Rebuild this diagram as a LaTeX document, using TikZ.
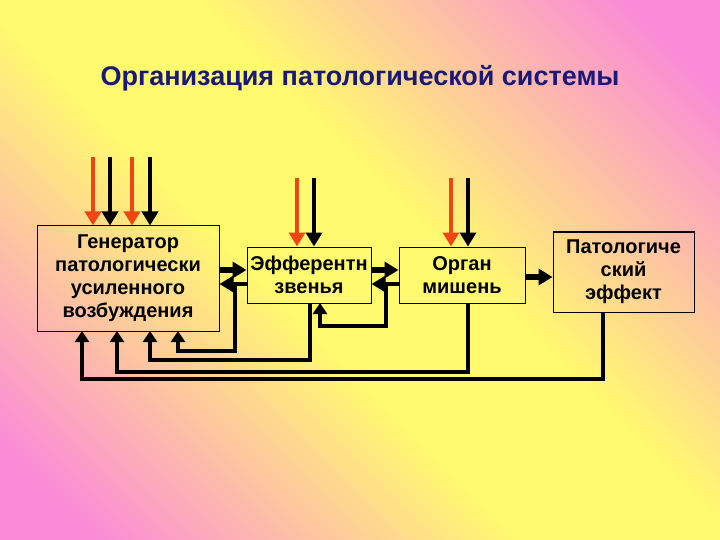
\documentclass[tikz,border=0pt]{standalone}
\usepackage{fontspec}
\setmainfont{Liberation Sans}
\usetikzlibrary{arrows.meta}
\definecolor{pinkc}{RGB}{250,140,215}
\definecolor{yelc}{RGB}{255,250,110}
\definecolor{redc}{RGB}{240,70,20}
\definecolor{titc}{RGB}{25,25,120}
\pgfdeclarehorizontalshading{diag}{100bp}{color(0bp)=(pinkc); color(20bp)=(pinkc); color(44bp)=(yelc); color(56bp)=(yelc); color(80bp)=(pinkc); color(100bp)=(pinkc)}
\begin{document}
\begin{tikzpicture}[x=1pt,y=-1pt,
  box/.style={draw=black,line width=1pt,inner sep=0pt,align=center,font=\fontsize{20}{23}\selectfont\bfseries},
  blk/.style={line width=4.5pt,-{Triangle[length=14pt,width=16pt]}},
  red/.style={draw=redc,line width=4pt,-{Triangle[length=14pt,width=16pt]}},
  fb/.style={line width=4pt,-{Triangle[length=11pt,width=14pt]}}]
\useasboundingbox (0,0) rectangle (720,540);
\shade[shading=diag,shading angle=45] (0,0) rectangle (720,540);
\node[font=\fontsize{27}{31}\selectfont\bfseries,text=titc] (title) at (360,78) {Организация патологической системы};
\node[box,minimum width=182pt,minimum height=105pt] (gen) at (128,278.5) {Генератор\\патологически\\усиленного\\возбуждения};
\node[box,minimum width=124pt,minimum height=56pt] (eff) at (309,275) {Эфферентн\\звенья};
\node[box,minimum width=126pt,minimum height=56pt] (org) at (462,275) {Орган\\мишень};
\node[box,minimum width=141pt,minimum height=80pt] (pat) at (623.5,272) {Патологиче\\ский\\эффект};
% top inputs
\coordinate (g1) at (93,157); \coordinate (g2) at (110,157);
\coordinate (g3) at (132,157); \coordinate (g4) at (150,157);
\draw[red] (g1) -- (g1 |- gen.north);
\draw[blk] (g2) -- (g2 |- gen.north);
\draw[red] (g3) -- (g3 |- gen.north);
\draw[blk] (g4) -- (g4 |- gen.north);
\coordinate (e1) at (297,178); \coordinate (e2) at (314,178);
\draw[red] (e1) -- (e1 |- eff.north);
\draw[blk] (e2) -- (e2 |- eff.north);
\coordinate (o1) at (451,178); \coordinate (o2) at (468,178);
\draw[red] (o1) -- (o1 |- org.north);
\draw[blk] (o2) -- (o2 |- org.north);
% horizontal
\draw[blk,line width=6pt] (gen.east |- 0,270) -- (eff.west |- 0,270);
\draw[blk] (eff.west |- 0,284) -- (gen.east |- 0,284);
\draw[blk,line width=6pt] (eff.east |- 0,270) -- (org.west |- 0,270);
\draw[blk] (org.west |- 0,284) -- (eff.east |- 0,284);
\draw[blk,line width=6pt] (org.east |- 0,277) -- (pat.west |- 0,277);
% feedback
\coordinate (f1) at (235,284); \coordinate (f2) at (386,284);
\draw[fb] (f1) -- (235,351) -- (178,351) -- (178,331);
\draw[fb] (f2) -- (386,326) -- (320,326) -- (320,303);
\draw[fb] (eff.south -| 310,0) -- (310,360) -- (150,360) -- (150,331);
\draw[fb] (org.south -| 468,0) -- (468,372) -- (117,372) -- (117,331);
\draw[fb] (pat.south -| 603,0) -- (603,379) -- (82,379) -- (82,331);
\end{tikzpicture}
\end{document}
